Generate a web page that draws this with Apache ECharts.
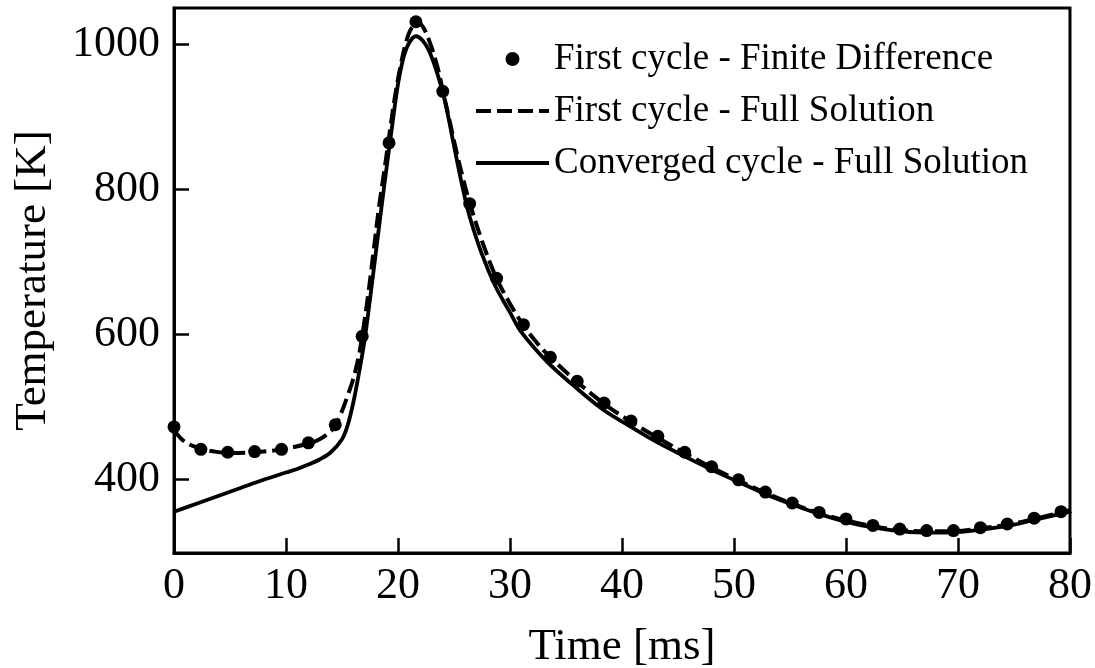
<!DOCTYPE html>
<html>
<head>
<meta charset="utf-8">
<script src="https://cdn.jsdelivr.net/npm/echarts@6/dist/echarts.min.js"></script>
<style>
  html, body { margin: 0; padding: 0; background: #fff; }
  #chart { width: 1095px; height: 668px; }
</style>
</head>
<body>
<div id="chart"></div>
<script>
// ---- Data ----
const fdTime = [0, 2.4, 4.8, 7.2, 9.6, 12, 14.4, 16.8, 19.2, 21.6, 24, 26.4, 28.8, 31.2, 33.6, 36, 38.4, 40.8, 43.2, 45.6, 48, 50.4, 52.8, 55.2, 57.6, 60, 62.4, 64.8, 67.2, 69.6, 72, 74.4, 76.8, 79.2];
const fdTemp = [472, 441, 437, 438, 441, 450, 475, 597, 864, 1031, 935, 780, 677, 613, 568, 535, 505, 480, 459, 437, 417, 399, 382, 367, 354, 345, 336, 331, 329, 329, 333, 338, 346, 355];

const firstTime = [0, 1, 2.4, 3.6, 4.8, 7.2, 9.6, 12, 13, 14, 14.4, 15, 15.5, 16, 16.5, 16.8, 17.3, 17.8, 18.3, 18.8, 19.2, 19.7, 20.2, 20.7, 21.2, 21.8, 22.3, 22.9, 23.5, 24, 24.6, 25.2, 25.8, 26.4, 27.6, 28.8, 30, 31.2, 32.4, 33.6, 36, 38.4, 40.8, 43.2, 45.6, 48, 50.4, 52.8, 55.2, 57.6, 60, 62.4, 64.8, 67.2, 69.6, 72, 74.4, 76.8, 79.2, 80];
const firstTemp = [467, 451, 442, 438, 436, 437, 441, 449, 455, 466, 474, 494, 515, 538, 570, 597, 650, 712, 775, 828, 872, 925, 968, 1002, 1022, 1030, 1022, 1000, 970, 936, 895, 853, 815, 781, 724, 677, 642, 612, 588, 568, 534, 504, 479, 457, 436, 416, 398, 381, 366, 353, 343, 335, 330, 328, 328, 332, 337, 345, 354, 357];

const convTime = [0, 2, 4, 6, 8, 10, 11, 12, 13, 14, 15, 15.5, 16, 16.5, 17, 17.5, 18, 18.5, 19, 19.5, 20, 20.5, 21, 21.6, 22.2, 22.8, 23.5, 24.2, 25, 25.8, 26.4, 27.5, 28.7, 30, 31, 33.3, 35.6, 38.3, 40.8, 43, 45, 48, 50.4, 53, 55, 57.6, 60, 62.5, 65, 67.5, 70, 72.5, 75, 77.5, 80];
const convTemp = [355, 366, 377, 388, 399, 409, 414, 420, 427, 437, 455, 474, 505, 545, 590, 648, 710, 772, 832, 890, 945, 982, 1002, 1011, 1005, 990, 960, 921, 860, 800, 762, 710, 666, 630, 603, 562, 530, 496, 472, 452, 436, 413, 396, 378, 366, 352, 341, 333, 328, 326, 327, 331, 337, 346, 355];

const xTicks = [0, 10, 20, 30, 40, 50, 60, 70, 80];
const yTicks = [400, 600, 800, 1000];

const seriesNames = ['First cycle - Finite Difference', 'First cycle - Full Solution', 'Converged cycle - Full Solution'];

function pairs(xs, ys) { return xs.map((x, i) => [x, ys[i]]); }

const FONT = '"Liberation Serif", "Times New Roman", serif';
const DASH = [15, 6];

const chart = echarts.init(document.getElementById('chart'), null, { renderer: 'canvas' });
chart.setOption({
  backgroundColor: '#ffffff',
  animation: false,
  textStyle: { fontFamily: FONT, color: '#000' },
  grid: {
    left: 174, right: 25, top: 8, bottom: 115,
    show: true, borderColor: '#000', borderWidth: 3, backgroundColor: 'transparent',
    containLabel: false, outerBoundsMode: 'none'
  },
  legend: {
    orient: 'vertical',
    left: 474, top: 39, padding: 0,
    itemWidth: 73, itemHeight: 14,
    itemGap: 12,
    textStyle: { fontFamily: FONT, fontSize: 37, color: '#000', lineHeight: 40 },
    data: [
      { name: seriesNames[0], icon: 'circle', itemStyle: { color: '#000', opacity: 1 } },
      { name: seriesNames[1], itemStyle: { opacity: 0 }, lineStyle: { color: '#000', width: 4, type: DASH } },
      { name: seriesNames[2], itemStyle: { opacity: 0 }, lineStyle: { color: '#000', width: 4, type: 'solid' } }
    ]
  },
  xAxis: {
    type: 'value', min: 0, max: 80, interval: 10,
    name: 'Time [ms]', nameLocation: 'middle', nameGap: 72,
    nameTextStyle: { fontFamily: FONT, fontSize: 45, color: '#000' },
    axisLine: { show: true, lineStyle: { color: '#000', width: 3 } },
    axisTick: { show: true, inside: true, length: 15, lineStyle: { color: '#000', width: 2.5 }, customValues: xTicks },
    axisLabel: { fontFamily: FONT, fontSize: 44, color: '#000', margin: 11, customValues: xTicks, formatter: v => String(v) },
    splitLine: { show: false }
  },
  yAxis: {
    type: 'value', min: 298, max: 1050,
    name: 'Temperature [K]', nameLocation: 'middle', nameGap: 118, nameRotate: 90,
    nameTextStyle: { fontFamily: FONT, fontSize: 45, color: '#000' },
    axisLine: { show: true, lineStyle: { color: '#000', width: 3 } },
    axisTick: { show: true, inside: true, length: 15, lineStyle: { color: '#000', width: 2.5 }, customValues: yTicks },
    axisLabel: { fontFamily: FONT, fontSize: 44, color: '#000', margin: 14, customValues: yTicks, formatter: v => String(v) },
    splitLine: { show: false }
  },
  series: [
    {
      name: seriesNames[1], type: 'line', data: pairs(firstTime, firstTemp),
      symbol: 'none', smooth: 0.35, z: 2,
      lineStyle: { color: '#000', width: 4, type: DASH },
      itemStyle: { color: '#000' }
    },
    {
      name: seriesNames[2], type: 'line', data: pairs(convTime, convTemp),
      symbol: 'none', smooth: 0.35, z: 3,
      lineStyle: { color: '#000', width: 3.8, type: 'solid' },
      itemStyle: { color: '#000' }
    },
    {
      name: seriesNames[0], type: 'scatter', data: pairs(fdTime, fdTemp),
      symbol: 'circle', symbolSize: 13, z: 4,
      itemStyle: { color: '#000', opacity: 1 }
    }
  ]
});
</script>
</body>
</html>
